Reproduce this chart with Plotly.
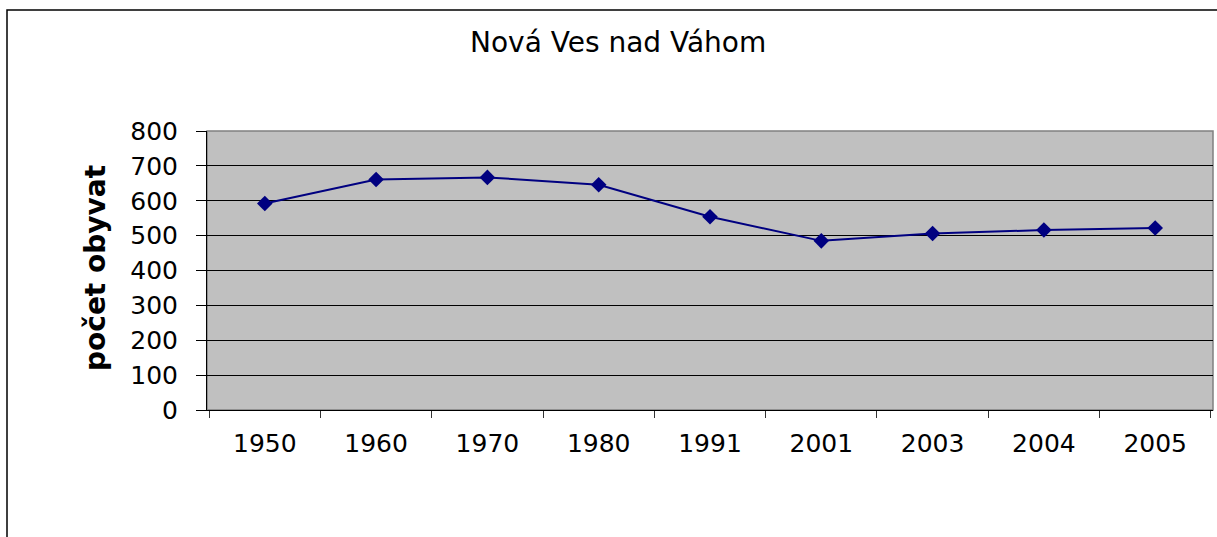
import plotly.graph_objects as go

years = ["1950", "1960", "1970", "1980", "1991", "2001", "2003", "2004", "2005"]
population = [592, 661, 667, 646, 554, 485, 506, 516, 522]
y_ticks = [0, 100, 200, 300, 400, 500, 600, 700, 800]

title_text = "Nová Ves nad Váhom"
y_title = "počet obyvat"

W, H = 1217, 537
L, R, T, B = 207, 4, 131, 127
pw, ph = W - L - R, H - T - B

fig = go.Figure()
fig.add_trace(go.Scatter(
    x=years, y=population, mode="lines+markers",
    line=dict(color="#000080", width=2),
    marker=dict(symbol="diamond", size=12, color="#000080"),
    showlegend=False, hoverinfo="x+y",
))

font = "DejaVu Sans, Liberation Sans, sans-serif"

fig.update_layout(
    width=W, height=H,
    margin=dict(l=L, r=R, t=T, b=B),
    paper_bgcolor="white", plot_bgcolor="#C0C0C0",
    font=dict(family=font, color="black"),
    xaxis=dict(
        type="category", tickson="boundaries", ticks="outside", ticklen=7,
        tickcolor="#333", showgrid=False, showline=True, linecolor="black",
        linewidth=1, tickfont=dict(size=25), ticklabelstandoff=11,
    ),
    yaxis=dict(
        range=[0, 800], tickvals=y_ticks, ticks="outside", ticklen=10,
        tickcolor="black", showgrid=True, gridcolor="black", gridwidth=1,
        showline=True, linecolor="black", linewidth=1, zeroline=False,
        tickfont=dict(size=25), ticklabelstandoff=13,
    ),
    shapes=[
        # plot frame (grey top/right)
        dict(type="rect", xref="paper", yref="paper", x0=0, x1=1, y0=0, y1=1,
             line=dict(color="#808080", width=1.5), layer="below"),
        # outer chart border
        dict(type="rect", xref="paper", yref="paper",
             x0=(7 - L) / pw, x1=(W + 5 - L) / pw,
             y0=(H - B - (H + 10)) / ph, y1=(H - B - 10) / ph,
             line=dict(color="black", width=1.5)),
    ],
    annotations=[
        dict(text=title_text, xref="paper", yref="paper",
             x=(618 - L) / pw, y=(H - B - 42) / ph, showarrow=False,
             xanchor="center", yanchor="middle", font=dict(size=28, family=font)),
        dict(text=y_title, xref="paper", yref="paper", textangle=-90,
             x=(95 - L) / pw, y=(H - B - 268) / ph, showarrow=False,
             xanchor="center", yanchor="middle",
             font=dict(size=28, family=font, weight="bold")),
    ],
)

fig.write_html("out.html", config={"displayModeBar": False},
               post_script="document.body.style.margin='0';")
